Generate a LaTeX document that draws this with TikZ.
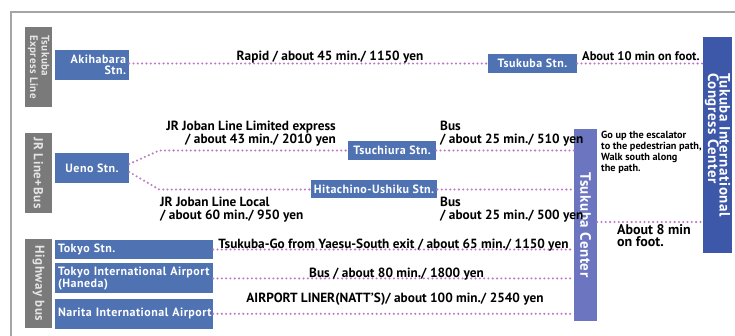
\documentclass[tikz,border=0pt]{standalone}
\usepackage{fontspec}
\setmainfont{PT Sans}
\newfontfamily\boxfont[LetterSpace=4]{PT Sans}
\usetikzlibrary{positioning}

\definecolor{stnblue}{RGB}{79,114,178}
\definecolor{tcblue}{RGB}{108,118,192}
\definecolor{ticcblue}{RGB}{61,88,168}
\definecolor{catgray}{RGB}{122,122,122}
\definecolor{routepurple}{RGB}{190,118,200}
\definecolor{framegray}{RGB}{165,165,165}

\begin{document}
\begin{tikzpicture}[x=1pt, y=-1pt,
    font=\bfseries\fontsize{13.3}{12.5}\selectfont,
    stn/.style={fill=stnblue, text=white, inner sep=3pt, font=\boxfont\bfseries\fontsize{12}{11}\selectfont},
    cat/.style={fill=catgray, text=white!90!black, rotate=-90, inner sep=1pt, align=left, minimum height=27, font=\boxfont\bfseries\fontsize{13}{11.5}\selectfont},
    route/.style={draw=routepurple, line width=2.3pt, line cap=round, dash pattern=on 0pt off 4.3pt},
    lbl/.style={inner sep=0pt, text=black},
    ]
    \useasboundingbox (0,0) rectangle (735,336);

    % frame
    \draw[framegray, line width=1.2pt] (11,336) -- (11,12) -- (735,12);

    % line categories
    \node[cat, minimum width=80, font=\boxfont\bfseries\fontsize{11}{11.5}\selectfont] (tx) at (38.5,67) {Tsukuba\\Express Line};
    \node[cat, minimum width=80] (jr) at (38.5,173) {JR Line+Bus};
    \node[cat, minimum width=89] (hw) at (38.5,283.5) {Highway bus};

    % departure stations
    \node[stn, minimum width=74, minimum height=30, text width=68, align=right] (aki) at (92,65) {Akihabara\\Stn.};
    \node[stn, minimum width=74, minimum height=30] (ueno) at (92,168) {Ueno Stn.};
    \node[stn, minimum width=158, minimum height=19, text width=152, align=left] (tokyo) at (134,249.5) {Tokyo Stn.};
    \node[stn, minimum width=158, minimum height=30, text width=152, align=left, below=4pt of tokyo] (haneda)
      {\mbox{Tokyo International Airport}\\(Haneda)};
    \node[stn, minimum width=158, minimum height=30, text width=152, align=left, below=5pt of haneda] (narita)
      {\mbox{Narita International Airport}};

    % transfer stations
    \node[stn, minimum width=89, minimum height=19] (tsst) at (532.5,63.5) {Tsukuba Stn.};
    \node[stn, minimum width=88, minimum height=19] (tsuchi) at (392,150.5) {Tsuchiura Stn.};
    \node[stn, minimum width=124, minimum height=18] (hita) at (374,189.5) {Hitachino-Ushiku Stn.};

    % Tsukuba Center and destination
    \node[fill=tcblue, text=white, rotate=-90, minimum width=192, minimum height=23, inner sep=0pt,
          font=\boxfont\bfseries\fontsize{15}{12}\selectfont] (tc) at (585.5,225) {Tsukuba Center};
    \node[fill=ticcblue, text=white, rotate=-90, minimum width=216, minimum height=29, inner sep=0pt, align=left,
          font=\boxfont\bfseries\fontsize{15}{11.5}\selectfont] (ticc) at (717.5,145) {Tukuba International\\Congress Center};

    % routes
    \draw[route] (aki.east |- tsst.west) -- (tsst.west);
    \draw[route] (tsst.east) -- (tsst.east -| ticc.south);
    \coordinate (fork) at ([xshift=30pt]ueno.east);
    \draw[route] ([yshift=4pt]ueno.east) -- (fork |- tsuchi.west) -- (tsuchi.west);
    \draw[route] ([yshift=-4pt]ueno.east) -- (fork |- hita.west) -- (hita.west);
    \draw[route] (tsuchi.east) -- (tsuchi.east -| tc.south);
    \draw[route] (hita.east) -- (hita.east -| tc.south);
    \draw[route] (tokyo.east) -- (tokyo.east -| tc.south);
    \draw[route] (haneda.east) -- (haneda.east -| tc.south);
    \draw[route] (narita.east) -- (narita.east -| tc.south);
    \coordinate (walk) at (tc.north |- 0,222);
    \draw[route] (walk) -- (walk -| ticc.south);

    % route labels
    \node[lbl, anchor=base] (rapid) at (330,61) {Rapid / about 45 min./ 1150 yen};
    \node[lbl, anchor=base west, font=\bfseries\fontsize{12.5}{12}\selectfont] (foot10) at (582,61) {About 10 min on foot.};
    \node[lbl, anchor=south east, align=right] (ltd) at (336,146) {JR Joban Line Limited express\\/ about 43 min./ 2010 yen};
    \node[lbl, anchor=south west, align=left] (bus1) at (440,146) {Bus\\/ about 25 min./ 510 yen};
    \node[lbl, anchor=north west, align=left] (local) at (160,197) {JR Joban Line Local\\/ about 60 min./ 950 yen};
    \node[lbl, anchor=north west, align=left] (bus2) at (440,197) {Bus\\/ about 25 min./ 500 yen};
    \node[lbl, anchor=north west, align=left, font=\bfseries\fontsize{10.3}{11}\selectfont] (esc) at (601,131)
      {Go up the escalator\\to the pedestrian path,\\Walk south along\\the path.};
    \node[lbl, anchor=north west, align=left, font=\bfseries\fontsize{14}{12.5}\selectfont] (foot8) at (617,224) {About 8 min\\on foot.};
    \node[lbl, anchor=base] (tsgo) at (393.5,249) {Tsukuba-Go from Yaesu-South exit / about 65 min./ 1150 yen};
    \node[lbl, anchor=base] (hnbus) at (396.5,277) {Bus / about 80 min./ 1800 yen};
    \node[lbl, anchor=base] (liner) at (395,302) {AIRPORT LINER(NATT'S)/ about 100 min./ 2540 yen};
\end{tikzpicture}
\end{document}
